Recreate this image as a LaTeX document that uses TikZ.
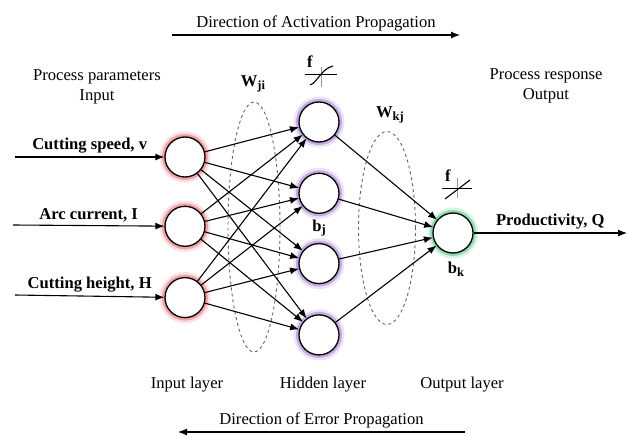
\documentclass[tikz,border=0pt]{standalone}
\usepackage{fontspec}
\setmainfont{Liberation Serif}
\usetikzlibrary{arrows.meta, positioning, shapes.geometric}
\definecolor{GlowIn}{RGB}{235,100,105}
\definecolor{GlowHid}{RGB}{155,115,210}
\definecolor{GlowOut}{RGB}{75,195,130}
\definecolor{RingGray}{RGB}{100,100,100}
\definecolor{TickGray}{RGB}{150,150,150}
\newcommand{\wsub}[1]{\raisebox{-2.5pt}{\fontsize{12.5}{14}\selectfont #1}}

\begin{document}
\begin{tikzpicture}[
  x=1pt, y=-1pt,
  every node/.style={font=\rmfamily\fontsize{16.6}{20}\selectfont},
  neuron/.style={circle, draw=black, line width=1.3pt, fill=white,
                 minimum size=40pt, inner sep=0pt,
                 preaction={draw=#1, line width=11pt, opacity=0.2},
                 preaction={draw=#1, line width=6pt, opacity=0.5}},
  lbl/.style={font=\rmfamily\bfseries\fontsize{16.6}{18}\selectfont},
  wring/.style={ellipse, draw=RingGray, dashed, line width=0.9pt,
                inner sep=0pt},
  arrow/.style={-{Latex[length=9pt, width=7pt]}, line width=1.1pt}
]
\useasboundingbox (0,0) rectangle (627,436);

% neurons
\node[neuron=GlowIn] (i1) at (185,157) {};
\node[neuron=GlowIn, below=28pt of i1] (i2) {};
\node[neuron=GlowIn, below=30pt of i2] (i3) {};
\node[neuron=GlowHid] (h1) at (319,122) {};
\node[neuron=GlowHid, below=30pt of h1] (h2) {};
\node[neuron=GlowHid, below=29pt of h2] (h3) {};
\node[neuron=GlowHid, below=30pt of h3] (h4) {};
\node[neuron=GlowOut] (o) at (453,233) {};

% weight groups
\node[wring, minimum width=52pt, minimum height=250pt] (gji) at (254,227) {};
\node[wring, minimum width=57pt, minimum height=193pt] (gkj) at (387,228) {};
\node[lbl] (wji) at (253,84) {W\wsub{ji}};
\node[lbl] (wkj) at (390,115) {W\wsub{kj}};
\node[lbl] (bj) at (319,228) {b\wsub{j}};
\node[lbl] (bk) at (456,269) {b\wsub{k}};

% inputs and output
\coordinate (s1) at (15,157);
\coordinate (s2) at (13,225);
\coordinate (s3) at (15,295);
\coordinate (q) at (627,233);
\draw[arrow] (s1) -- node[above, lbl] {Cutting speed, v} (i1);
\draw[arrow] (s2) -- node[above, lbl] {Arc current, I} (i2);
\draw[arrow] (s3) -- node[above, lbl] {Cutting height, H} (i3);
\draw[arrow] (o) -- node[above, lbl] {Productivity, Q} (q);

% input to hidden
\draw[arrow] (i1) -- (h1);
\draw[arrow] (i1) -- (h2);
\draw[arrow] (i1) -- (h3);
\draw[arrow] (i1) -- (h4);
\draw[arrow] (i2) -- (h1);
\draw[arrow] (i2) -- (h2);
\draw[arrow] (i2) -- (h3);
\draw[arrow] (i2) -- (h4);
\draw[arrow] (i3) -- (h1);
\draw[arrow] (i3) -- (h2);
\draw[arrow] (i3) -- (h3);
\draw[arrow] (i3) -- (h4);

% hidden to output
\draw[arrow] (h1) -- (o);
\draw[arrow] (h2) -- (o);
\draw[arrow] (h3) -- (o);
\draw[arrow] (h4) -- (o);

% transfer functions
\node[lbl] (fh) at (310,62) {f};
\draw[TickGray, line width=0.8pt] (321,67) -- (321,87);
\draw[line width=0.9pt] (305,74) -- (337,74);
\draw[line width=1.1pt] (310,85) .. controls (318,82) and (321,69) .. (333,66);
\node[lbl] (fo) at (448,176) {f};
\draw[TickGray, line width=0.8pt] (457,178) -- (457,198);
\draw[line width=0.9pt] (442,188) -- (472,188);
\draw[line width=1.1pt] (445,199) -- (470,180);

% captions
\node[align=center] (pin) at (97,87) {Process parameters\\Input};
\node[align=center] (pout) at (546,86) {Process response\\Output};
\node (lin) at (187,385) {Input layer};
\node (lhid) at (323,385) {Hidden layer};
\node (lout) at (462,385) {Output layer};

% propagation directions
\coordinate (ta) at (172,35);
\coordinate (tb) at (460,35);
\draw[arrow] (ta) -- node[above] {Direction of Activation Propagation} (tb);
\coordinate (ba) at (465,432);
\coordinate (bb) at (178,432);
\draw[arrow] (ba) -- node[above] {Direction of Error Propagation} (bb);
\end{tikzpicture}
\end{document}
